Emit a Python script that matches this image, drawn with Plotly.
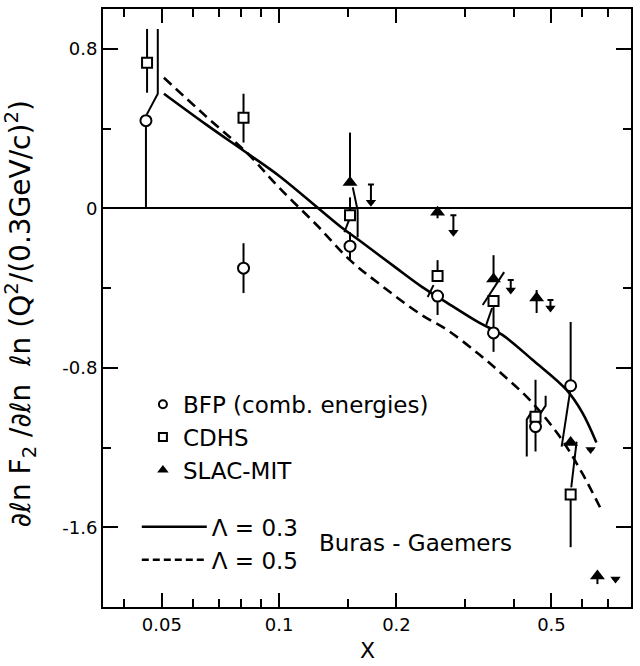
import math
import plotly.graph_objects as go

# ---------------- data ----------------
# BFP (combined energies) - open circles
bfp_x = [0.0455, 0.081, 0.152, 0.255, 0.355, 0.455, 0.56]
bfp_y = [0.44, -0.30, -0.19, -0.44, -0.625, -1.095, -0.89]
bfp_err_plus = [0.0, 0.125, 0.07, 0.0, 0.10, 0.0, 0.32]
bfp_err_minus = [0.44, 0.125, 0.07, 0.095, 0.095, 0.125, 0.0]

# CDHS - open squares
cdhs_x = [0.0458, 0.081, 0.152, 0.255, 0.355, 0.455, 0.56]
cdhs_y = [0.73, 0.455, -0.035, -0.34, -0.465, -1.045, -1.435]
cdhs_err_plus = [0.17, 0.12, 0.09, 0.08, 0.0, 0.185, 0.0]
cdhs_err_minus = [0.15, 0.125, 0.0, 0.0, 0.06, 0.0, 0.265]

# SLAC-MIT - filled triangles
slac_x = [0.152, 0.255, 0.355, 0.458, 0.56, 0.656]
slac_y = [0.13, -0.02, -0.355, -0.45, -1.175, -1.845]
slac_err_plus = [0.25, 0.02, 0.12, 0.04, 0.0, 0.0]
slac_err_minus = [0.0, 0.03, 0.0, 0.075, 0.0, 0.04]

# upper limits (arrows)
ul_x = [0.172, 0.28, 0.393, 0.497, 0.63, 0.73]
ul_y = [0.03, -0.12, -0.41, -0.50, -1.21, -1.86]
ul_bar = [0.09, 0.085, 0.05, 0.04, 0.0, 0.0]

# displaced error-bar segments (drawn offset to avoid overlap)
off_x = [0.0457, 0.0488, 0.0488, None,
         0.1545, 0.159, 0.159, None,
         0.151, 0.147, None,
         0.249, 0.2405, None,
         0.378, 0.333, None,
         0.352, 0.34, None,
         0.445, 0.432, 0.432, None,
         0.468, 0.483, 0.483, None,
         0.558, 0.531, None,
         0.562, 0.58]
off_y = [0.47, 0.575, 0.90, None,
         0.105, -0.01, -0.145, None,
         -0.06, -0.12, None,
         -0.385, -0.445, None,
         -0.32, -0.485, None,
         -0.50, -0.585, None,
         -1.02, -1.06, -1.245, None,
         -1.03, -0.99, -0.94, None,
         -0.92, -1.195, None,
         -1.40, -1.17]

# Buras-Gaemers curves
bg03_x = [0.0506, 0.065, 0.083, 0.1004, 0.1455, 0.163, 0.20, 0.233, 0.263,
          0.327, 0.374, 0.45, 0.546, 0.60, 0.652]
bg03_y = [0.575, 0.42, 0.275, 0.16, -0.10, -0.17, -0.30, -0.395, -0.46,
          -0.575, -0.635, -0.765, -0.91, -1.025, -1.175]
bg05_x = [0.0506, 0.065, 0.083, 0.1004, 0.125, 0.152, 0.181, 0.23, 0.27,
          0.327, 0.38, 0.439, 0.525, 0.60, 0.676]
bg05_y = [0.655, 0.46, 0.275, 0.10, -0.085, -0.26, -0.38, -0.53, -0.61,
          -0.735, -0.845, -0.96, -1.145, -1.33, -1.525]

x_tick_vals = [0.05, 0.1, 0.2, 0.5]
x_tick_text = ["0.05", "0.1", "0.2", "0.5"]
x_minor_vals = [0.04, 0.06, 0.07, 0.08, 0.09, 0.15, 0.3, 0.4, 0.6, 0.7]
y_tick_vals = [0.8, 0.0, -0.8, -1.6]
y_tick_text = ["0.8", "0", "-0.8", "-1.6"]
y_minor_vals = [0.4, -0.4, -1.2]

# ---------------- figure ----------------
FONT = "DejaVu Sans"
BLACK = "black"
fig = go.Figure()

err_style = dict(type="data", symmetric=False, color=BLACK, thickness=2, width=0)

fig.add_trace(go.Scatter(x=off_x, y=off_y, mode="lines", line=dict(color=BLACK, width=2),
                         showlegend=False, hoverinfo="skip", connectgaps=False))

fig.add_trace(go.Scatter(x=bg03_x, y=bg03_y, mode="lines", line=dict(color=BLACK, width=2.6, shape="spline"),
                         showlegend=False))
fig.add_trace(go.Scatter(x=bg05_x, y=bg05_y, mode="lines",
                         line=dict(color=BLACK, width=2.6, dash="10px,6px", shape="spline"),
                         showlegend=False))

fig.add_trace(go.Scatter(x=bfp_x, y=bfp_y, mode="markers",
                         marker=dict(symbol="circle", size=11, color="white", line=dict(color=BLACK, width=2)),
                         error_y=dict(array=bfp_err_plus, arrayminus=bfp_err_minus, **err_style),
                         showlegend=False))
fig.add_trace(go.Scatter(x=cdhs_x, y=cdhs_y, mode="markers",
                         marker=dict(symbol="square", size=10, color="white", line=dict(color=BLACK, width=2)),
                         error_y=dict(array=cdhs_err_plus, arrayminus=cdhs_err_minus, **err_style),
                         showlegend=False))
fig.add_trace(go.Scatter(x=slac_x, y=slac_y, mode="markers",
                         marker=dict(symbol="triangle-up", size=13, color=BLACK),
                         error_y=dict(array=slac_err_plus, arrayminus=slac_err_minus, **err_style),
                         showlegend=False))
fig.add_trace(go.Scatter(x=ul_x, y=ul_y, mode="markers",
                         marker=dict(symbol="triangle-down", size=9, color=BLACK),
                         error_y=dict(type="data", symmetric=False, array=ul_bar,
                                      arrayminus=[0] * len(ul_bar), color=BLACK, thickness=2, width=3),
                         showlegend=False))

# legend entries
fig.add_trace(go.Scatter(x=[None], y=[None], mode="markers", name="BFP (comb. energies)",
                         marker=dict(symbol="circle", size=8, color="white", line=dict(color=BLACK, width=2)),
                         legend="legend"))
fig.add_trace(go.Scatter(x=[None], y=[None], mode="markers", name="CDHS",
                         marker=dict(symbol="square", size=8, color="white", line=dict(color=BLACK, width=2)),
                         legend="legend"))
fig.add_trace(go.Scatter(x=[None], y=[None], mode="markers", name="SLAC-MIT",
                         marker=dict(symbol="triangle-up", size=10, color=BLACK),
                         legend="legend"))
fig.add_trace(go.Scatter(x=[None], y=[None], mode="lines", name="Λ = 0.3",
                         line=dict(color=BLACK, width=2.6), legend="legend2"))
fig.add_trace(go.Scatter(x=[None], y=[None], mode="lines", name="Λ = 0.5",
                         line=dict(color=BLACK, width=2.6, dash="7px,4px"), legend="legend2"))

fig.update_layout(
    width=640, height=666,
    margin=dict(l=103, r=8, t=7, b=59),
    paper_bgcolor="white", plot_bgcolor="white",
    font=dict(family=FONT, color=BLACK, size=18),
    legend=dict(x=0.0756, y=0.375, xanchor="left", yanchor="top", bgcolor="rgba(0,0,0,0)",
                font=dict(family=FONT, size=23, color=BLACK), itemwidth=30),
    legend2=dict(x=0.064, y=0.17, xanchor="left", yanchor="top", bgcolor="rgba(0,0,0,0)",
                 font=dict(family=FONT, size=23, color=BLACK), itemwidth=65),
    xaxis=dict(type="log", range=[math.log10(0.0353), math.log10(0.80)],
               tickmode="array", tickvals=x_tick_vals, ticktext=x_tick_text,
               ticks="inside", ticklen=14, tickwidth=2, tickcolor=BLACK,
               showline=True, linewidth=2, linecolor=BLACK, mirror="allticks",
               showgrid=False, zeroline=False,
               minor=dict(tickmode="array", tickvals=x_minor_vals, ticks="inside", ticklen=8,
                          tickwidth=2, tickcolor=BLACK, showgrid=False),
               tickfont=dict(family=FONT, size=18, color=BLACK)),
    yaxis=dict(range=[-2.0, 1.0],
               tickmode="array", tickvals=y_tick_vals, ticktext=y_tick_text,
               ticks="inside", ticklen=15, tickwidth=2, tickcolor=BLACK,
               showline=True, linewidth=2, linecolor=BLACK, mirror="allticks",
               showgrid=False, zeroline=True, zerolinecolor=BLACK, zerolinewidth=1.5,
               minor=dict(tickmode="array", tickvals=y_minor_vals, ticks="inside", ticklen=8,
                          tickwidth=2, tickcolor=BLACK, showgrid=False),
               tickfont=dict(family=FONT, size=18, color=BLACK)),
    annotations=[
        dict(text="Buras - Gaemers", x=0.406, y=0.107, xref="paper", yref="paper",
             xanchor="left", yanchor="middle", showarrow=False,
             font=dict(family=FONT, size=23, color=BLACK)),
        dict(text="X", x=0.5, y=-0.072, xref="paper", yref="paper",
             xanchor="center", yanchor="middle", showarrow=False,
             font=dict(family=FONT, size=22, color=BLACK)),
        dict(text="∂ℓn F<sub>2</sub> /∂ℓn  ℓn (Q<sup>2</sup>/(0.3GeV/c)<sup>2</sup>)",
             x=-0.155, y=0.49, xref="paper", yref="paper", textangle=-90,
             xanchor="center", yanchor="middle", showarrow=False,
             font=dict(family=FONT, size=28, color=BLACK)),
    ],
)

fig.write_html("out.html")
